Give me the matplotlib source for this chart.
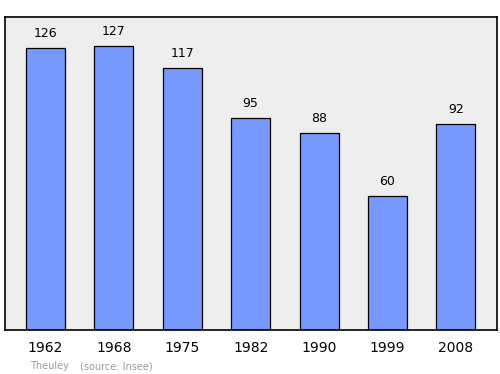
import matplotlib

matplotlib.use("Agg")
import matplotlib.pyplot as plt

years = ["1962", "1968", "1975", "1982", "1990", "1999", "2008"]
population = [126, 127, 117, 95, 88, 60, 92]

fig = plt.figure(figsize=(5.0, 3.74), dpi=100)
ax = fig.add_axes([0.01, 0.1176, 0.984, 0.837])
ax.set_facecolor("#eeeeee")

x = range(len(years))
ax.bar(x, population, width=0.57, color="#7799ff", edgecolor="black", linewidth=0.9)
for xi, v in zip(x, population):
    ax.text(xi, v + 3.6, str(v), ha="center", va="bottom", fontsize=9)

ax.set_xlim(-0.59, 6.6)
ax.set_ylim(0, 140)
ax.set_yticks([])
ax.set_xticks(list(x))
ax.set_xticklabels(years, fontsize=10)
ax.tick_params(axis="x", length=0, pad=8)
for s in ax.spines.values():
    s.set_linewidth(1.2)

fig.text(0.06, 0.013, "Theuley", fontsize=7, color="#999999")
fig.text(0.16, 0.013, "(source: Insee)", fontsize=7, color="#999999")

fig.savefig("out.png", dpi=100)
